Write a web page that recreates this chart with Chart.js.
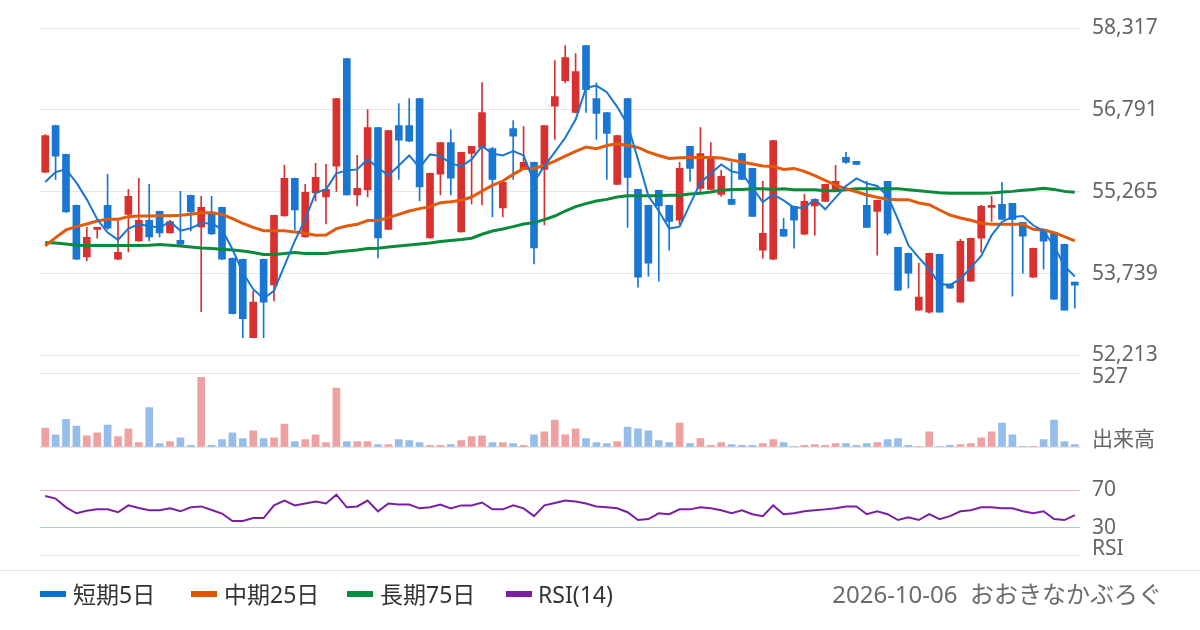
<!DOCTYPE html>
<html lang="ja">
<head>
<meta charset="utf-8">
<title>chart</title>
<script src="https://cdn.jsdelivr.net/npm/chart.js@4.4.1/dist/chart.umd.min.js"></script>
<style>
  body { margin: 0; background: #fff; width: 1200px; height: 630px; position: relative; overflow: hidden;
         font-family: "Noto Sans", "Noto Sans CJK JP", sans-serif; }
  .box { position: absolute; left: 0; width: 1200px; }
  #footerLine { position: absolute; left: 0; top: 570px; width: 1200px; height: 1px; background: #e6e6e6; }
  .lg { position: absolute; top: 578px; height: 32px; line-height: 32px; font-size: 23px; color: #333; white-space: nowrap; }
  .mk { position: absolute; top: 591px; width: 26px; height: 6px; }
  #stamp { position: absolute; right: 38px; top: 578px; height: 32px; line-height: 32px; font-size: 24px; color: #6b6b6b; }
</style>
</head>
<body>
<div class="box" style="top:0;height:380px"><canvas id="priceChart"></canvas></div>
<div class="box" style="top:349px;height:123px"><canvas id="volChart"></canvas></div>
<div class="box" style="top:438px;height:142px"><canvas id="rsiChart"></canvas></div>
<div id="footerLine"></div>
<span class="mk" style="left:40px;background:#0b6fd0"></span><span class="lg" style="left:73px">短期5日</span>
<span class="mk" style="left:191px;background:#dd5400"></span><span class="lg" style="left:224px">中期25日</span>
<span class="mk" style="left:347px;background:#0a8c40"></span><span class="lg" style="left:380px">長期75日</span>
<span class="mk" style="left:506px;background:#7b1fa2"></span><span class="lg" style="left:538px">RSI(14)</span>
<div id="stamp">2026-10-06&nbsp; おおきなかぶろぐ</div>

<script>
// data
let opens = [55631,56499,55960,55011,54049,54564,55011,54006,54843,54347,
  54732,54899,54496,54359,55197,54608,54887,54974,54024,54006,
  52542,54006,53528,54812,55513,54421,55240,55166,55743,57746,
  55203,55296,56462,54564,56499,56499,57002,54403,55594,56183,
  54514,55978,56090,56071,54961,56444,55681,55811,55681,56859,
  57337,56741,57988,57002,56741,55401,57002,55308,55011,55290,
  55011,54732,56109,55327,55308,55215,55122,55978,55699,54173,
  54006,54564,54992,54471,55000,55085,55308,55904,55830,55011,
  54899,55457,54229,54117,53057,53020,54099,53541,53206,53596,
  54397,54974,55029,55048,54694,53671,54564,54508,54285,53578];
let highs = [56332,56505,55965,55015,54601,54600,55588,54750,55308,55513,
  55401,54905,54732,55271,55200,55178,55178,54980,54030,54010,
  53410,54010,54830,55761,55520,55401,55792,55774,57005,57750,
  55941,56797,56465,56410,56909,57002,57005,55610,56185,56425,
  56000,56112,57300,56090,55440,56592,56481,55815,56500,57709,
  57988,57839,57990,57293,56745,56315,57005,55310,55015,55295,
  55015,55811,56112,56462,56183,55662,55811,55980,55700,55457,
  56225,54769,54995,55215,55125,55405,55755,55997,55832,55457,
  55105,55460,54230,54120,53931,54120,54100,53545,54378,54400,
  55011,55178,55439,55050,54696,54213,54566,54510,54287,53580];
let lows = [55620,55495,54880,54000,53975,54397,54564,54000,54142,54340,
  54347,54421,54490,54280,54533,53026,54470,54000,52985,52542,
  52540,52542,53230,54810,54552,54415,55091,54663,55271,55200,
  54998,55166,54031,54560,55495,56200,55091,54400,55203,55203,
  54510,55036,55017,54794,54794,55495,55675,53919,54645,56239,
  57293,56735,56741,56239,55495,55400,54601,53485,53689,53596,
  54173,54657,55457,55271,55305,55178,55025,55490,54800,54025,
  54000,54430,54211,54465,54453,55080,55305,55792,55770,54598,
  54080,54453,53425,53466,53055,53001,53018,53462,53204,53594,
  54136,54713,54748,53317,53745,53669,53820,53259,53055,53094];
let closes = [56313,55929,54887,54006,54415,54595,54583,54136,55178,54732,
  54421,54496,54707,54285,54887,54974,54477,54006,52989,52896,
  53206,53206,54825,55513,54924,55253,55532,55308,57002,55203,
  55327,56462,54403,56406,56227,56208,55352,55606,56183,55519,
  55997,56109,56741,55495,55439,56301,55811,54217,56499,57039,
  57765,57504,57169,56723,56351,56313,55532,53671,53931,54998,
  54713,55699,55699,55978,55923,55550,55029,55495,54806,54490,
  56220,54434,54732,55085,55122,55401,55457,55811,55774,54601,
  55104,54490,53429,53745,53299,54117,53020,53466,54341,54397,
  54992,55011,54750,54750,54434,54211,54341,53261,53057,53522];
let volumes = [146,95,212,161,88,110,168,81,139,37,
  300,29,44,73,15,527,15,59,110,66,
  124,66,73,176,44,59,95,37,447,44,
  44,44,22,22,59,51,37,15,15,22,
  51,81,88,37,37,29,15,95,117,205,
  95,139,66,37,29,44,154,139,124,51,
  37,183,29,66,15,37,22,15,15,29,
  59,37,7,15,22,15,29,29,15,29,
  37,59,66,15,7,117,7,15,22,29,
  73,117,183,95,7,7,59,205,44,22];
let ma5 = [55445,55631,55681,55433,55122,54750,54502,54366,54577,54657,
  54626,54595,54707,54539,54583,54676,54676,54564,54192,53758,
  53448,53274,53417,53882,54347,54750,55246,55308,55606,55662,
  55681,55867,55712,55569,55755,55941,55712,55960,55929,55792,
  55736,55867,56115,55978,55941,56022,55941,55445,55743,56003,
  56270,56611,57200,57244,57120,56847,56518,55867,55184,54905,
  54577,54614,55029,55433,55606,55774,55643,55606,55339,55073,
  55215,55104,54967,54967,55122,54936,55153,55371,55513,55420,
  55371,55184,54750,54266,54037,53820,53541,53528,53634,53851,
  54068,54452,54701,54794,54812,54639,54533,54254,53882,53683];
let ma25 = [54254,54409,54552,54614,54663,54719,54750,54750,54800,54812,
  54812,54818,54818,54825,54843,54874,54874,54843,54763,54676,
  54601,54539,54539,54539,54514,54490,54452,54459,54577,54626,
  54657,54726,54726,54781,54843,54905,54949,54986,55060,55079,
  55104,55166,55277,55383,55464,55588,55699,55699,55755,55836,
  55929,56016,56096,56065,56127,56158,56127,56090,56003,55941,
  55885,55898,55904,55904,55904,55892,55854,55817,55780,55743,
  55736,55681,55699,55643,55563,55476,55389,55321,55265,55203,
  55160,55122,55116,55116,55054,55023,54924,54831,54775,54732,
  54676,54657,54657,54657,54657,54564,54552,54502,54428,54347];
let ma75 = [54316,54310,54291,54266,54260,54260,54260,54260,54260,54260,
  54266,54279,54266,54254,54235,54217,54204,54192,54180,54161,
  54130,54093,54093,54111,54130,54111,54111,54111,54142,54161,
  54180,54204,54211,54235,54254,54273,54291,54310,54335,54353,
  54372,54397,54471,54533,54570,54614,54663,54688,54744,54812,
  54905,54986,55042,55091,55122,55166,55191,55191,55191,55191,
  55197,55197,55222,55234,55259,55290,55308,55308,55321,55321,
  55308,55321,55302,55302,55302,55284,55284,55302,55321,55321,
  55321,55321,55321,55302,55284,55265,55246,55234,55234,55234,
  55234,55240,55259,55271,55290,55308,55327,55308,55271,55253];
let rsi14 = [64,61.2,51.8,45.4,48.2,49.6,49.6,46.5,53.9,51,
  48.6,48.6,50.7,47.5,51.8,52.8,48.9,45.1,37,37,
  40.2,40.2,53.9,59.1,53.9,56,58,56,65.4,51.8,
  52.8,59.1,47.5,56,54.9,54.9,50.7,51.8,54.9,50.7,
  53.9,53.9,57,49.6,49.6,53.9,50.7,42.3,53.9,56.5,
  59.1,58,56,52.8,51.8,50.7,46.5,38.1,39.1,45.4,
  44.4,49.6,49.6,51.8,50.7,48.6,45.4,48.6,44.4,42.3,
  53.9,44.4,45.4,47.5,48.6,49.6,50.7,52.8,52.8,44.4,
  47.5,44.4,38.1,41.2,38.1,44.4,39.1,42.3,47.5,48.6,
  51.8,51.8,50.7,50.7,47.5,45.4,47.5,39.1,38.1,43.3];

let priceTicks = [52213, 53739, 55265, 56791, 58317];
let volTicks = [0, 58, 527, 556];
let rsiTicks = [0, 7, 30, 70];
let days = opens.map((o, i) => String(i + 1));

// colors
let upColor = '#d8302f';
let downColor = '#1976d2';
let isUp = closes.map((c, i) => c >= opens[i]);
let candleColors = isUp.map(u => u ? upColor : downColor);
let volColors = isUp.map(u => u ? '#efa1a1' : '#95bde9');

let fontFam = '"Noto Sans", "Noto Sans CJK JP", sans-serif';
let gridGray = '#e6e6e6';
let clear = 'rgba(0,0,0,0)';
let tickStyle = { color: '#666', font: { size: 21, family: fontFam }, padding: 12, autoSkip: false };

Chart.defaults.animation = false;
Chart.defaults.events = [];
Chart.defaults.plugins.legend.display = false;
Chart.defaults.plugins.tooltip.enabled = false;
Chart.defaults.maintainAspectRatio = false;

// price chart
let ctx = document.getElementById('priceChart').getContext('2d');
let priceChart = new Chart(ctx, {
  type: 'bar',
  data: {
    labels: days,
    datasets: [
      { type: 'line', data: ma5, borderColor: '#1976d2', borderWidth: 2, pointRadius: 0, order: 1 },
      { type: 'line', data: ma25, borderColor: '#e35a0c', borderWidth: 3, pointRadius: 0, order: 2 },
      { type: 'line', data: ma75, borderColor: '#0b8a3c', borderWidth: 3, pointRadius: 0, order: 3 },
      {
        data: highs.map((h, i) => [lows[i], h]),
        backgroundColor: candleColors, barThickness: 1, grouped: false, order: 11
      },
      {
        data: opens.map((o, i) => [o, closes[i]]),
        backgroundColor: candleColors, barThickness: 7, minBarLength: 2, grouped: false, order: 10
      }
    ]
  },
  options: {
    layout: { padding: { left: 40, top: 28, bottom: 14, right: 0 } },
    scales: {
      x: { display: false },
      y: {
        position: 'right',
        min: 52213,
        max: 58317,
        afterBuildTicks: (s) => { s.ticks = priceTicks.map(v => ({ value: v })); },
        afterFit: (s) => { s.width = 120; },
        grid: { color: gridGray, drawTicks: false },
        border: { display: false },
        ticks: Object.assign({}, tickStyle, { callback: (v) => v.toLocaleString('en-US') })
      }
    }
  }
});

// volume chart
let ctx2 = document.getElementById('volChart').getContext('2d');
let volChart = new Chart(ctx2, {
  type: 'bar',
  data: {
    labels: days,
    datasets: [{ data: volumes, backgroundColor: volColors, barThickness: 7 }]
  },
  options: {
    layout: { padding: { left: 40, top: 10, bottom: 14, right: 0 } },
    scales: {
      x: { display: false },
      y: {
        position: 'right',
        min: 0,
        max: 556,
        afterBuildTicks: (s) => { s.ticks = volTicks.map(v => ({ value: v })); },
        afterFit: (s) => { s.width = 120; },
        grid: {
          drawTicks: false,
          lineWidth: (c) => (c.tick && c.tick.value === 0) ? 2 : 1,
          color: (c) => (c.tick && (c.tick.value === 0 || c.tick.value === 556)) ? gridGray : clear
        },
        border: { display: false },
        ticks: Object.assign({}, tickStyle, {
          callback: (v) => v === 527 ? '527' : (v === 58 ? '出来高' : '')
        })
      }
    }
  }
});

// rsi chart
let ctx3 = document.getElementById('rsiChart').getContext('2d');
let rsiChart = new Chart(ctx3, {
  type: 'line',
  data: {
    labels: days,
    datasets: [{ data: rsi14, borderColor: '#7b1fa2', borderWidth: 2, pointRadius: 0 }]
  },
  options: {
    layout: { padding: { left: 40, top: 11, bottom: 9, right: 0 } },
    scales: {
      x: { display: false, offset: true },
      y: {
        position: 'right',
        min: 0,
        max: 100,
        afterBuildTicks: (s) => { s.ticks = rsiTicks.map(v => ({ value: v })); },
        afterFit: (s) => { s.width = 120; },
        grid: {
          drawTicks: false,
          color: (c) => {
            if (!c.tick) return clear;
            if (c.tick.value === 70) return '#f5b5bd';
            if (c.tick.value === 30) return '#a8c8ee';
            if (c.tick.value === 0) return gridGray;
            return clear;
          }
        },
        border: { display: false },
        ticks: Object.assign({}, tickStyle, {
          callback: (v) => v === 70 ? '70' : v === 30 ? '30' : v === 7 ? 'RSI' : ''
        })
      }
    }
  }
});
</script>
</body>
</html>
